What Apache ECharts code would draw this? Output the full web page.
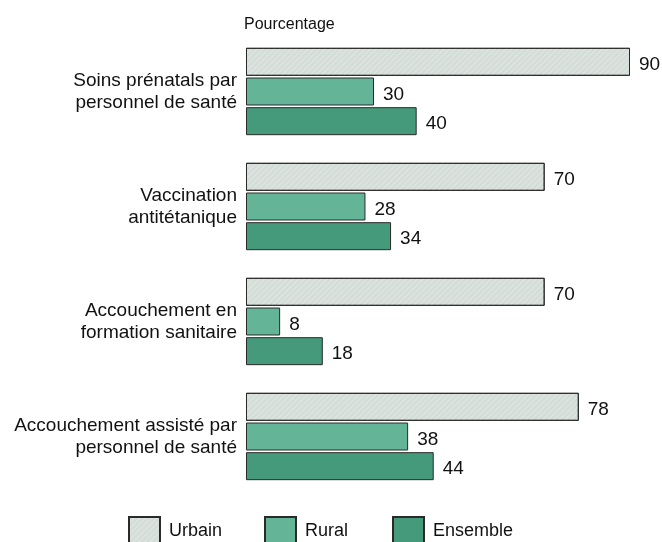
<!DOCTYPE html>
<html>
<head>
<meta charset="utf-8">
<script src="https://cdn.jsdelivr.net/npm/echarts@6/dist/echarts.min.js"></script>
<style>
  html, body { margin: 0; padding: 0; background: #fff; }
  #main { width: 662px; height: 542px; }
</style>
</head>
<body>
<div id="main"></div>
<script>
// categories, top to bottom
var categories = [
  'Soins prénatals par\npersonnel de santé',
  'Vaccination\nantitétanique',
  'Accouchement en\nformation sanitaire',
  'Accouchement assisté par\npersonnel de santé'
];
var urbain = [90, 70, 70, 78];
var rural = [30, 28, 8, 38];
var ensemble = [40, 34, 18, 44];

var font = 'Liberation Sans, Arial, sans-serif';

// light diagonal hatching on the urban bars
var hatch = {
  symbol: 'rect',
  dashArrayX: [1, 0],
  dashArrayY: [1, 3],
  rotation: -Math.PI / 4,
  color: 'rgba(255,255,255,0.3)'
};

function makeSeries(name, data, color, decal) {
  var style = { color: color, borderColor: '#2a2a2a', borderWidth: 1 };
  if (decal) style.decal = decal;
  return {
    name: name,
    type: 'bar',
    data: data,
    barWidth: 28,
    barGap: '6%',
    itemStyle: style,
    label: {
      show: true,
      position: 'right',
      distance: 9,
      color: '#111',
      fontSize: 19,
      fontFamily: font,
      offset: [0, 3]
    }
  };
}

function makeLegend(name, left) {
  return {
    data: [name],
    left: left,
    top: 511,
    itemWidth: 31,
    itemHeight: 28,
    itemGap: 6,
    icon: 'rect',
    textStyle: { fontSize: 18, fontFamily: font, color: '#111', padding: [0, 0, 0, 4] }
  };
}

var chart = echarts.init(document.getElementById('main'));
chart.setOption({
  animation: false,
  title: {
    text: 'Pourcentage',
    left: 239,
    top: 12,
    textStyle: { fontSize: 16, fontWeight: 'normal', fontFamily: font, color: '#111' }
  },
  legend: [
    makeLegend('Urbain', 123),
    makeLegend('Rural', 259),
    makeLegend('Ensemble', 387)
  ],
  grid: { left: 246, right: 32, top: 34, height: 460 },
  xAxis: {
    type: 'value',
    min: 0,
    max: 90,
    show: false
  },
  yAxis: {
    type: 'category',
    inverse: true,
    data: categories,
    axisLine: { show: false },
    axisTick: { show: false },
    axisLabel: {
      margin: 9,
      fontSize: 19,
      lineHeight: 22,
      fontFamily: font,
      color: '#111',
      align: 'right'
    }
  },
  series: [
    makeSeries('Urbain', urbain, '#d4ddd8', hatch),
    makeSeries('Rural', rural, '#64b497'),
    makeSeries('Ensemble', ensemble, '#469a7c')
  ]
});
</script>
</body>
</html>
